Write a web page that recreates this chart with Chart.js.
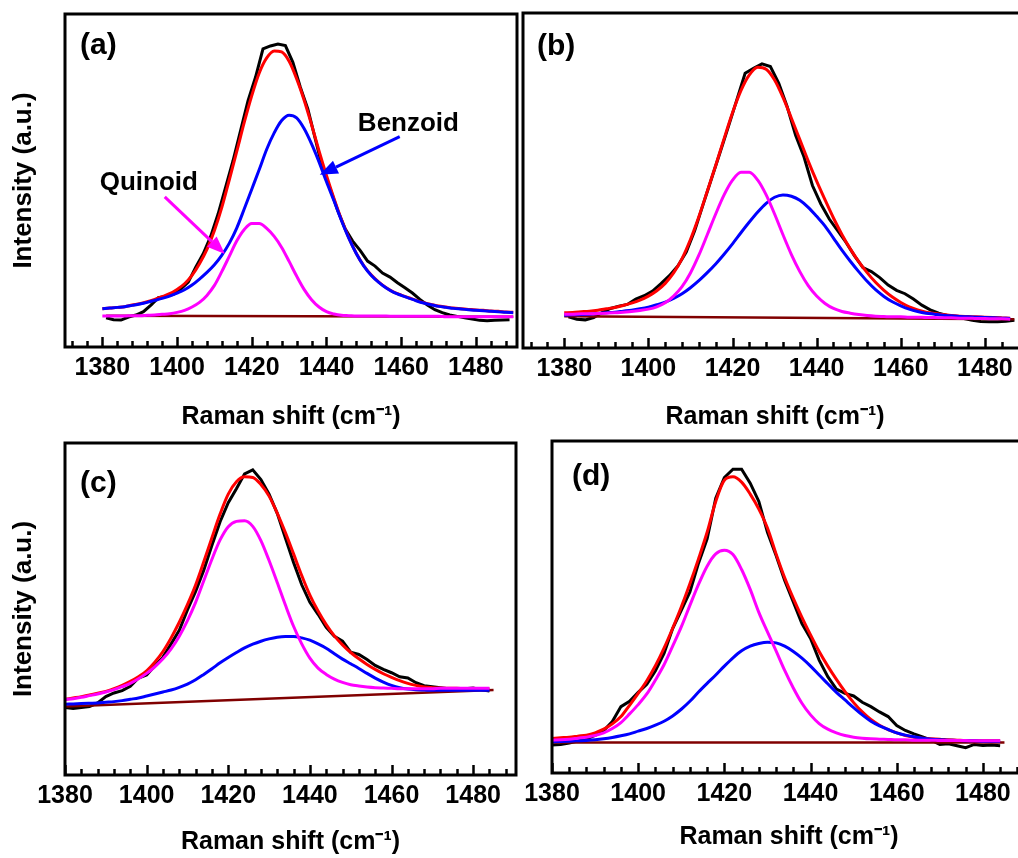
<!DOCTYPE html>
<html>
<head>
<meta charset="utf-8">
<script src="https://cdn.jsdelivr.net/npm/chart.js@4.4.1/dist/chart.umd.min.js"></script>
<style>
  html, body { margin: 0; padding: 0; background: #fff; overflow: hidden; }
  body { width: 1018px; height: 858px; position: relative; }
  canvas { position: absolute; }
</style>
</head>
<body>
<canvas id="pa"></canvas>
<canvas id="pb"></canvas>
<canvas id="pc"></canvas>
<canvas id="pd"></canvas>
<script>
// Raman shift grids (cm-1)
const gridA = [1380, 1382, 1384, 1386, 1388, 1390, 1392, 1394, 1396, 1398, 1400, 1402, 1404, 1406, 1408, 1410, 1412, 1414, 1416, 1418,
  1420, 1422, 1424, 1426, 1428, 1430, 1432, 1434, 1436, 1438, 1440, 1442, 1444, 1446, 1448, 1450, 1452, 1454, 1456, 1458,
  1460, 1462, 1464, 1466, 1468, 1470, 1472, 1474, 1476, 1478, 1480, 1482, 1484, 1486, 1488, 1490];
const gridB = [1380, 1382, 1384, 1386, 1388, 1390, 1392, 1394, 1396, 1398, 1400, 1402, 1404, 1406, 1408, 1410, 1412, 1414, 1416, 1418,
  1420, 1422, 1424, 1426, 1428, 1430, 1432, 1434, 1436, 1438, 1440, 1442, 1444, 1446, 1448, 1450, 1452, 1454, 1456, 1458,
  1460, 1462, 1464, 1466, 1468, 1470, 1472, 1474, 1476, 1478, 1480, 1482, 1484, 1486];
const gridCD = [1380, 1382, 1384, 1386, 1388, 1390, 1392, 1394, 1396, 1398, 1400, 1402, 1404, 1406, 1408, 1410, 1412, 1414, 1416, 1418,
  1420, 1422, 1424, 1426, 1428, 1430, 1432, 1434, 1436, 1438, 1440, 1442, 1444, 1446, 1448, 1450, 1452, 1454, 1456, 1458,
  1460, 1462, 1464, 1466, 1468, 1470, 1472, 1474, 1476, 1478, 1480, 1482, 1484];
const oddA = [1381, 1383, 1385, 1387, 1389, 1391, 1393, 1395, 1397, 1399, 1401, 1403, 1405, 1407, 1409, 1411, 1413, 1415, 1417, 1419,
  1421, 1423, 1425, 1427, 1429, 1431, 1433, 1435, 1437, 1439, 1441, 1443, 1445, 1447, 1449, 1451, 1453, 1455, 1457, 1459,
  1461, 1463, 1465, 1467, 1469, 1471, 1473, 1475, 1477, 1479, 1481, 1483, 1485, 1487, 1489];
const oddB = [1381, 1383, 1385, 1387, 1389, 1391, 1393, 1395, 1397, 1399, 1401, 1403, 1405, 1407, 1409, 1411, 1413, 1415, 1417, 1419,
  1421, 1423, 1425, 1427, 1429, 1431, 1433, 1435, 1437, 1439, 1441, 1443, 1445, 1447, 1449, 1451, 1453, 1455, 1457, 1459,
  1461, 1463, 1465, 1467, 1469, 1471, 1473, 1475, 1477, 1479, 1481, 1483, 1485, 1487];
const tickVals = [1380, 1400, 1420, 1440, 1460, 1480];

// (a) intensities, arbitrary units
const aRaw = [8.8, 8.2, 8.1, 9.0, 9.6, 10.6, 12.6, 14.8, 15.2, 15.8, 17.4, 19.5, 24.0, 28.0, 33.2, 40.0, 48.0, 56.0, 65.0, 74.0,
  81.0, 89.5, 90.4, 91.0, 90.5, 85.5, 78.0, 71.5, 62.5, 53.5, 47.5, 41.0, 35.5, 31.8, 29.0, 25.8, 24.3, 22.2, 21.0, 19.3,
  17.8, 16.2, 14.3, 12.6, 11.2, 10.3, 9.6, 9.2, 8.8, 8.4, 8.0, 7.9, 8.0, 8.1, 8.2];
const aFit = [11.5, 11.7, 11.9, 12.1, 12.6, 13.0, 13.6, 14.3, 15.1, 16.0, 17.3, 19.0, 21.5, 25.0, 29.3, 35.0, 42.0, 50.3, 58.8, 67.5,
  75.5, 82.3, 86.8, 88.9, 88.6, 85.8, 80.6, 74.2, 66.8, 58.9, 51.5, 44.6, 38.3, 32.8, 28.1, 24.4, 21.6, 19.5, 17.8, 16.5,
  15.6, 14.8, 14.0, 13.3, 12.8, 12.3, 12.0, 11.7, 11.5, 11.3, 11.1, 11.0, 10.8, 10.7, 10.5, 10.4];
const aBenz = [11.5, 11.7, 11.9, 12.1, 12.5, 12.9, 13.4, 14.0, 14.6, 15.3, 16.2, 17.2, 18.6, 20.4, 22.4, 24.7, 27.6, 31.2, 35.8, 41.5,
  47.4, 53.3, 59.4, 64.3, 68.0, 69.6, 68.8, 65.6, 61.0, 55.6, 49.6, 43.9, 38.0, 32.6, 28.0, 24.3, 21.5, 19.4, 17.7, 16.4,
  15.5, 14.7, 13.9, 13.2, 12.7, 12.2, 11.9, 11.6, 11.4, 11.2, 11.0, 10.9, 10.7, 10.6, 10.4, 10.3];
const aQuin = [9.3, 9.3, 9.3, 9.3, 9.4, 9.4, 9.5, 9.6, 9.8, 10.0, 10.4, 11.0, 12.0, 13.4, 15.5, 18.5, 22.7, 27.3, 31.9, 35.3,
  37.1, 37.1, 35.6, 33.2, 29.9, 25.7, 21.3, 17.3, 14.2, 12.0, 10.6, 9.9, 9.5, 9.4, 9.3, 9.3, 9.3, 9.3, 9.3, 9.2,
  9.2, 9.2, 9.2, 9.2, 9.2, 9.2, 9.1, 9.1, 9.1, 9.1, 9.1, 9.1, 9.1, 9.1, 9.1, 9.1];
const aBaseX = [1381, 1490];
const aBase = [9.4, 9.1];

// (b)
const bRaw = [9.3, 8.6, 8.4, 9.1, 10.6, 11.8, 12.5, 13.0, 14.6, 15.6, 17.0, 19.2, 21.6, 24.5, 28.6, 35.0, 42.8, 50.5, 58.2, 66.0,
  74.0, 82.0, 83.5, 84.8, 84.0, 79.0, 72.0, 63.5, 57.0, 48.5, 43.0, 38.5, 35.0, 31.5, 27.5, 24.0, 22.8, 21.0, 18.8, 17.2,
  16.2, 14.6, 12.8, 11.4, 10.4, 9.7, 9.3, 8.8, 8.3, 7.9, 7.8, 7.8, 8.0, 8.3];
const bFit = [10.5, 10.6, 10.8, 11.0, 11.3, 11.7, 12.1, 12.7, 13.4, 14.3, 15.5, 17.1, 19.3, 22.4, 26.7, 32.4, 39.2, 46.8, 54.5, 62.5,
  70.2, 76.8, 81.5, 83.8, 83.2, 80.0, 74.8, 68.6, 62.2, 55.8, 49.8, 44.2, 38.8, 33.9, 29.6, 25.8, 22.5, 19.6, 17.2, 15.2,
  13.6, 12.3, 11.4, 10.7, 10.3, 10.0, 9.7, 9.5, 9.4, 9.3, 9.2, 9.1, 9.0, 8.9];
const bBenz = [9.8, 9.9, 10.0, 10.1, 10.3, 10.5, 10.7, 11.0, 11.3, 11.7, 12.2, 12.9, 13.7, 14.8, 16.2, 18.0, 20.1, 22.5, 25.1, 28.0,
  31.1, 34.4, 37.6, 40.6, 43.2, 45.0, 45.7, 45.3, 44.1, 42.0, 39.3, 36.4, 32.8, 29.2, 25.9, 22.8, 19.9, 17.4, 15.4, 13.8,
  12.6, 11.6, 10.9, 10.4, 10.1, 9.8, 9.6, 9.4, 9.3, 9.2, 9.1, 9.0, 8.9, 8.8];
const bQuin = [10.1, 10.1, 10.2, 10.2, 10.3, 10.4, 10.5, 10.7, 10.9, 11.2, 11.6, 12.3, 13.5, 15.5, 18.3, 22.4, 27.7, 33.8, 40.0, 45.7,
  50.1, 52.5, 52.5, 50.1, 45.7, 40.0, 33.8, 27.9, 22.8, 18.6, 15.5, 13.3, 11.8, 10.9, 10.4, 10.0, 9.7, 9.5, 9.4, 9.3,
  9.3, 9.2, 9.2, 9.1, 9.1, 9.0, 9.0, 8.9, 8.9, 8.8, 8.8, 8.7, 8.7, 8.6];
const bBaseX = [1380, 1487];
const bBase = [9.5, 8.6];

// (c)
const cRaw = [20.3, 20.0, 20.3, 20.6, 21.7, 23.6, 24.7, 25.4, 26.7, 29.2, 30.1, 32.8, 35.5, 39.5, 43.6, 49.7, 55.3, 61.7, 69.2, 76.3,
  82.0, 86.2, 90.7, 91.9, 89.0, 84.6, 78.8, 71.4, 64.0, 57.3, 52.0, 48.4, 44.5, 41.8, 40.3, 37.0, 36.3, 34.8, 33.0, 31.8,
  30.8, 29.6, 29.2, 27.8, 26.9, 26.6, 26.3, 26.0, 25.9, 26.0, 26.2, 25.7, 25.3];
const cFit = [22.8, 23.2, 23.6, 24.1, 24.6, 25.2, 26.0, 27.0, 28.2, 29.6, 31.4, 34.0, 37.2, 41.3, 46.0, 51.3, 57.2, 64.2, 71.5, 78.6,
  84.6, 88.3, 89.8, 89.6, 87.5, 84.0, 78.9, 73.0, 66.6, 60.1, 54.2, 49.4, 45.3, 41.9, 39.2, 36.9, 35.0, 33.3, 31.8, 30.5,
  29.4, 28.4, 27.6, 27.0, 26.5, 26.3, 26.2, 26.1, 26.1, 26.0, 26.0, 26.0, 25.9];
const cBenz = [21.3, 21.4, 21.5, 21.6, 21.7, 21.9, 22.1, 22.4, 22.8, 23.2, 23.8, 24.4, 25.0, 25.6, 26.4, 27.4, 28.7, 30.3, 32.0, 33.8,
  35.4, 36.9, 38.3, 39.4, 40.3, 41.0, 41.5, 41.7, 41.7, 41.3, 40.6, 39.5, 38.2, 36.5, 34.9, 33.5, 32.1, 30.6, 29.2, 28.0,
  27.0, 26.3, 25.9, 25.7, 25.6, 25.5, 25.5, 25.5, 25.5, 25.5, 25.5, 25.5, 25.5];
const cQuin = [22.7, 23.0, 23.4, 23.9, 24.4, 25.0, 25.7, 26.6, 27.6, 29.0, 30.6, 32.6, 35.0, 38.0, 41.8, 46.5, 52.0, 58.5, 65.0, 70.8,
  74.8, 76.4, 76.6, 74.9, 70.6, 64.6, 58.0, 51.2, 44.8, 39.5, 35.2, 32.2, 30.3, 28.9, 27.9, 27.2, 26.8, 26.5, 26.3, 26.2,
  26.1, 26.0, 26.0, 26.0, 26.0, 26.0, 26.1, 26.1, 26.1, 26.1, 26.1, 26.1, 26.1];
const cBaseX = [1380, 1485];
const cBase = [20.6, 25.6];

// (d)
const dRaw = [8.4, 8.6, 9.0, 9.6, 10.3, 11.3, 12.8, 15.5, 20.0, 21.6, 24.3, 26.7, 30.8, 36.0, 43.5, 49.0, 54.5, 63.2, 70.5, 82.8,
  89.0, 91.5, 91.5, 87.3, 81.8, 72.5, 65.5, 58.0, 51.5, 45.0, 40.5, 34.0, 29.0, 25.3, 24.0, 23.2, 21.3, 20.0, 18.4, 17.0,
  14.3, 12.8, 11.8, 10.9, 9.9, 8.6, 8.8, 8.2, 7.6, 8.6, 8.3, 8.4, 8.2];
const dFit = [10.4, 10.6, 10.8, 11.1, 11.4, 12.1, 13.2, 14.8, 17.0, 20.4, 24.0, 27.8, 32.3, 37.6, 43.6, 50.0, 57.0, 64.5, 72.5, 81.8,
  88.2, 89.2, 87.6, 84.0, 79.5, 73.8, 66.0, 58.8, 52.6, 46.9, 41.6, 36.6, 32.2, 28.2, 24.5, 21.2, 18.4, 16.1, 14.4, 13.1,
  12.1, 11.3, 10.8, 10.5, 10.3, 10.2, 10.0, 9.9, 9.8, 9.8, 9.7, 9.7, 9.7];
const dBenz = [9.4, 9.5, 9.6, 9.7, 9.8, 10.0, 10.3, 10.7, 11.2, 11.8, 12.6, 13.4, 14.4, 15.6, 17.2, 19.2, 21.6, 24.4, 27.0, 29.5,
  32.2, 34.7, 36.8, 38.2, 39.0, 39.4, 39.2, 38.2, 36.6, 34.6, 32.2, 29.5, 26.9, 24.3, 22.0, 19.7, 17.5, 15.6, 14.2, 13.1,
  12.1, 11.4, 10.9, 10.5, 10.2, 10.0, 9.9, 9.8, 9.7, 9.7, 9.6, 9.6, 9.6];
const dQuin = [9.9, 10.0, 10.2, 10.5, 10.8, 11.3, 12.1, 13.4, 15.2, 17.8, 20.6, 23.8, 28.0, 32.6, 38.2, 44.0, 50.5, 56.8, 62.3, 66.0,
  67.1, 65.8, 61.3, 55.3, 48.4, 42.5, 36.8, 30.9, 25.6, 21.0, 17.5, 14.9, 13.2, 12.1, 11.3, 10.8, 10.5, 10.3, 10.2, 10.1,
  10.0, 10.0, 9.9, 9.9, 9.9, 9.8, 9.8, 9.8, 9.8, 9.7, 9.7, 9.7, 9.7];
const dBaseX = [1380, 1485];
const dBase = [9.2, 9.2];

const FONT = '"Liberation Sans", Arial, Helvetica, sans-serif';
Chart.defaults.font.family = FONT;
Chart.defaults.color = '#000';

function series(xs, ys) {
  return xs.map((x, i) => ({x: x, y: ys[i]}));
}

// box, inward ticks on the bottom axis, panel letter and notes
const framePlugin = {
  id: 'frame',
  afterDraw(chart, args, o) {
    const ctx = chart.ctx;
    const a = chart.chartArea;
    const xs = chart.scales.x, ys = chart.scales.y;
    const step = o.minorStep, major = o.majorStep;
    ctx.save();
    ctx.strokeStyle = '#000';
    ctx.lineWidth = 2.5;
    ctx.beginPath();
    for (let v = Math.ceil(xs.min / step) * step; v <= xs.max; v += step) {
      const px = Math.round(xs.getPixelForValue(v)) + 0.5;
      const len = (v % major === 0) ? 10 : 6;
      ctx.moveTo(px, a.bottom);
      ctx.lineTo(px, a.bottom - len);
    }
    ctx.stroke();
    ctx.lineWidth = 3;
    ctx.strokeRect(a.left, a.top, a.right - a.left, a.bottom - a.top);

    ctx.fillStyle = '#000';
    ctx.textAlign = 'left';
    ctx.textBaseline = 'middle';
    ctx.font = 'bold 30px ' + FONT;
    ctx.fillText(o.label, a.left + o.labelAt[0], a.top + o.labelAt[1]);

    ctx.font = 'bold 26px ' + FONT;
    (o.notes || []).forEach(n => {
      ctx.fillText(n.text, xs.getPixelForValue(n.x), ys.getPixelForValue(n.y));
    });
    (o.arrows || []).forEach(ar => {
      const x0 = xs.getPixelForValue(ar.from[0]), y0 = ys.getPixelForValue(ar.from[1]);
      const x1 = xs.getPixelForValue(ar.to[0]), y1 = ys.getPixelForValue(ar.to[1]);
      const ang = Math.atan2(y1 - y0, x1 - x0);
      const head = 18, half = 7;
      const bx = x1 - head * Math.cos(ang), by = y1 - head * Math.sin(ang);
      ctx.strokeStyle = ar.color;
      ctx.fillStyle = ar.color;
      ctx.lineWidth = 3;
      ctx.beginPath();
      ctx.moveTo(x0, y0);
      ctx.lineTo(bx, by);
      ctx.stroke();
      ctx.beginPath();
      ctx.moveTo(x1, y1);
      ctx.lineTo(bx + half * Math.sin(ang), by - half * Math.cos(ang));
      ctx.lineTo(bx - half * Math.sin(ang), by + half * Math.cos(ang));
      ctx.closePath();
      ctx.fill();
    });
    ctx.restore();
  }
};

function makePanel(p) {
  const cv = document.getElementById(p.id);
  const w = (p.box.right - p.box.left) + p.pad.l + p.pad.r;
  const h = (p.box.bottom - p.box.top) + p.pad.t + p.pad.b;
  cv.width = w;
  cv.height = h;
  cv.style.left = (p.box.left - p.pad.l) + 'px';
  cv.style.top = (p.box.top - p.pad.t) + 'px';

  const fitLine = {borderWidth: 3, pointRadius: 0, fill: false, cubicInterpolationMode: 'monotone'};
  const datasets = [
    Object.assign({label: 'Quinoid', data: series(p.fitX, p.quin), borderColor: '#ff00ff'}, fitLine),
    Object.assign({label: 'Benzoid', data: series(p.fitX, p.benz), borderColor: '#0000ff'}, fitLine),
    Object.assign({label: 'Fit', data: series(p.fitX, p.fit), borderColor: '#ff0000'}, fitLine),
    {label: 'Baseline', data: series(p.baseX, p.base), borderColor: '#800000', borderWidth: 2.5, pointRadius: 0, fill: false},
    {label: 'Data', data: series(p.rawX, p.raw), borderColor: '#000000', borderWidth: 3, pointRadius: 0, fill: false, tension: 0}
  ];

  return new Chart(cv, {
    type: 'line',
    data: {datasets: datasets},
    plugins: [framePlugin],
    options: {
      responsive: false,
      animation: false,
      devicePixelRatio: 1,
      layout: {padding: {left: 0, top: p.pad.t, right: p.pad.r, bottom: 0}},
      plugins: {
        legend: {display: false},
        tooltip: {enabled: false},
        frame: {label: p.label, labelAt: p.labelAt, minorStep: 4, majorStep: 20, notes: p.notes, arrows: p.arrows}
      },
      scales: {
        x: {
          type: 'linear',
          min: p.xMin,
          max: p.xMax,
          grid: {display: false, drawTicks: false},
          border: {display: false},
          afterBuildTicks: s => { s.ticks = tickVals.map(v => ({value: v})); },
          afterFit: s => { s.height = p.pad.b; },
          ticks: {
            font: {size: 25, weight: 'bold'},
            padding: 6,
            maxRotation: 0,
            autoSkip: false,
            callback: v => String(v)
          },
          title: {
            display: true,
            text: 'Raman shift (cm\u207B\u00B9)',
            font: {size: 25, weight: 'bold'},
            padding: {top: 0, bottom: p.titlePad}
          }
        },
        y: {
          min: 0,
          max: 100,
          grid: {display: false},
          border: {display: false},
          ticks: {display: false},
          afterFit: s => { s.width = p.pad.l; },
          title: {
            display: p.yTitle,
            text: 'Intensity (a.u.)',
            font: {size: 26, weight: 'bold'},
            padding: {top: 8, bottom: 0}
          }
        }
      }
    }
  });
}

makePanel({
  id: 'pa', label: '(a)', labelAt: [15, 32],
  box: {left: 65, top: 14, right: 517, bottom: 347}, pad: {l: 65, t: 14, r: 6, b: 90},
  xMin: 1370, xMax: 1491, yTitle: true, titlePad: 5,
  fitX: gridA, rawX: oddA, baseX: aBaseX,
  raw: aRaw, fit: aFit, benz: aBenz, quin: aQuin, base: aBase,
  notes: [
    {text: 'Benzoid', x: 1448.4, y: 67.0},
    {text: 'Quinoid', x: 1379.3, y: 49.2}
  ],
  arrows: [
    {from: [1459.6, 63.2], to: [1438.2, 51.7], color: '#0000ff'},
    {from: [1396.7, 45.1], to: [1412.8, 27.9], color: '#ff00ff'}
  ]
});
makePanel({
  id: 'pb', label: '(b)', labelAt: [14, 34],
  box: {left: 523, top: 13, right: 1027, bottom: 348}, pad: {l: 40, t: 13, r: 4, b: 90},
  xMin: 1370.2, xMax: 1490, yTitle: false, titlePad: 6,
  fitX: gridB, rawX: oddB, baseX: bBaseX,
  raw: bRaw, fit: bFit, benz: bBenz, quin: bQuin, base: bBase
});
makePanel({
  id: 'pc', label: '(c)', labelAt: [15, 41],
  box: {left: 65, top: 443, right: 516, bottom: 775}, pad: {l: 65, t: 20, r: 6, b: 83},
  xMin: 1380, xMax: 1490.5, yTitle: true, titlePad: 1,
  fitX: gridCD, rawX: gridCD, baseX: cBaseX,
  raw: cRaw, fit: cFit, benz: cBenz, quin: cQuin, base: cBase
});
makePanel({
  id: 'pd', label: '(d)', labelAt: [20, 36],
  box: {left: 552, top: 441, right: 1026, bottom: 773}, pad: {l: 40, t: 20, r: 4, b: 85},
  xMin: 1380, xMax: 1490, yTitle: false, titlePad: 6,
  fitX: gridCD, rawX: gridCD, baseX: dBaseX,
  raw: dRaw, fit: dFit, benz: dBenz, quin: dQuin, base: dBase
});
</script>
</body>
</html>
